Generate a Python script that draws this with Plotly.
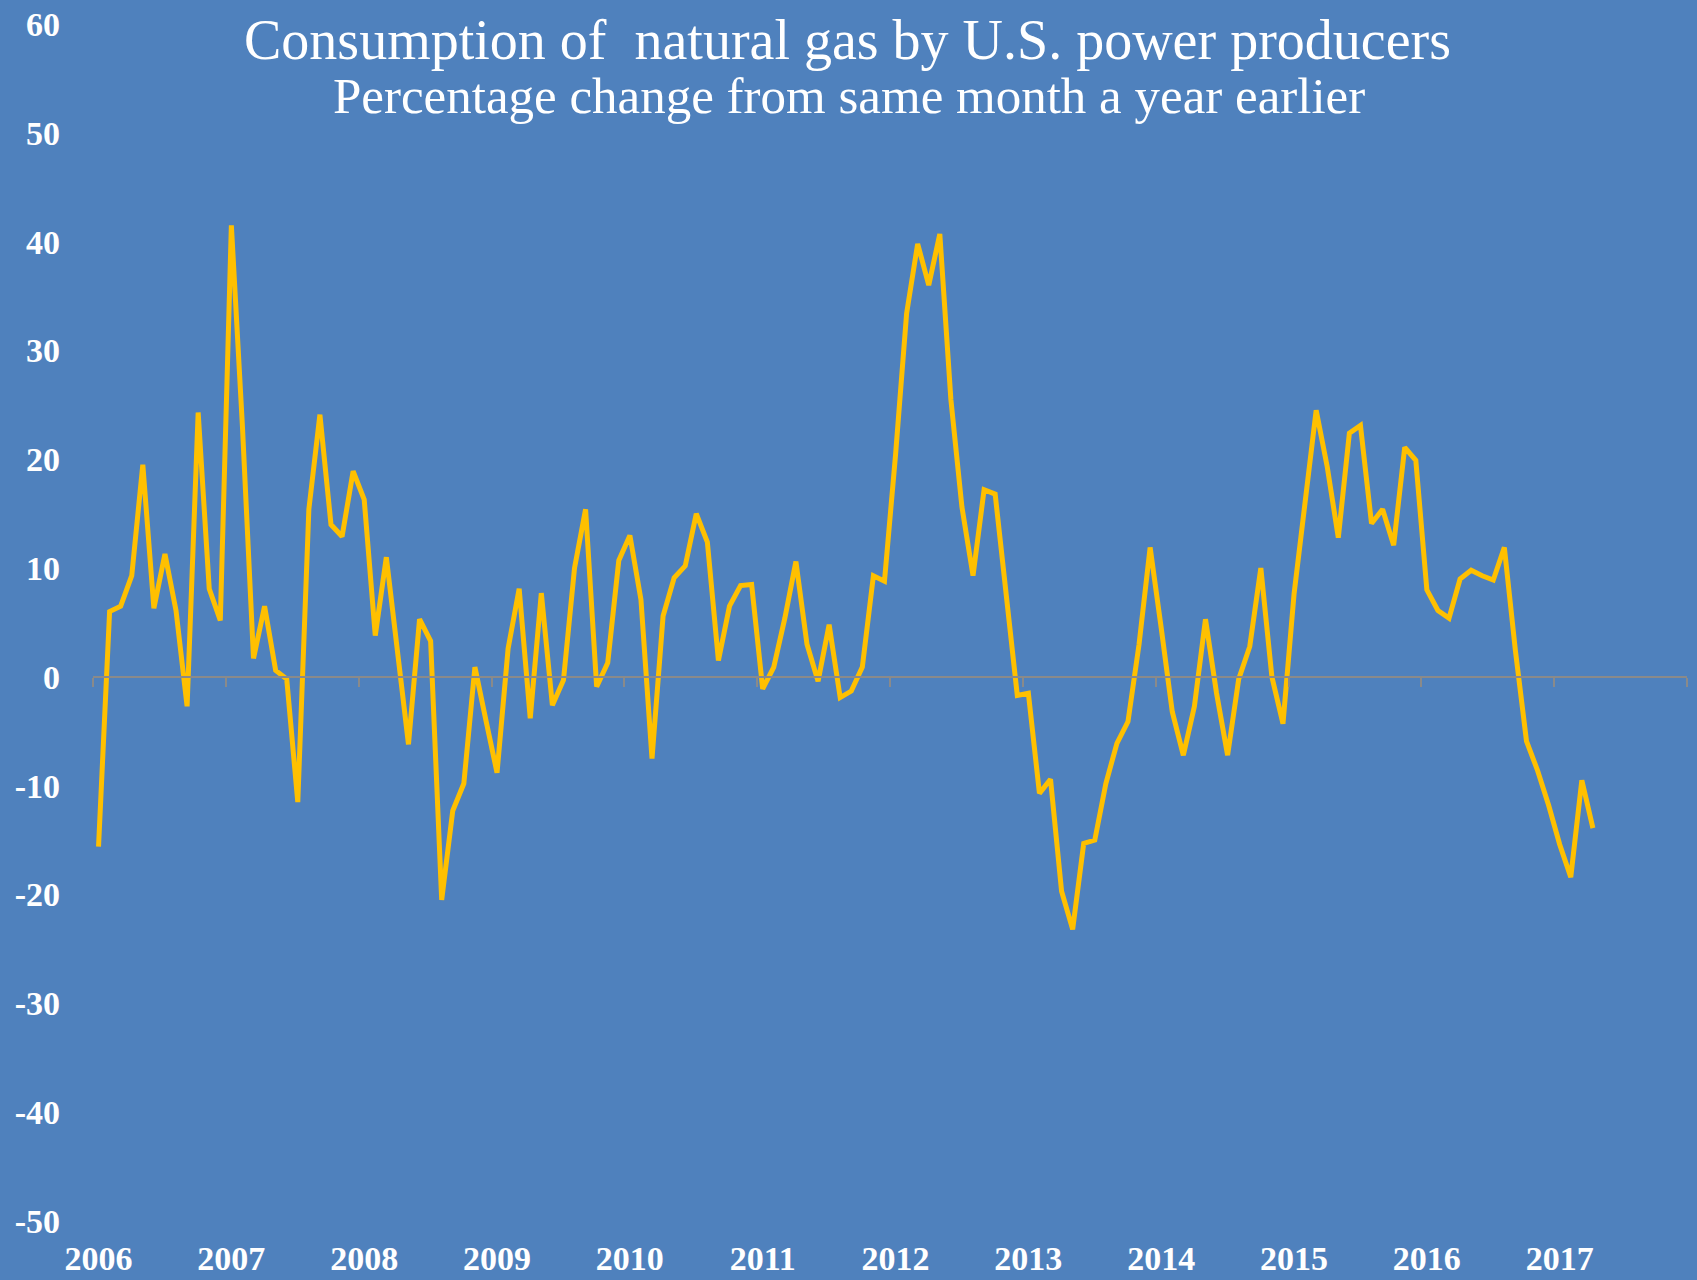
import plotly.graph_objects as go

# ── data: % change from same month a year earlier, Jan 2006 .. Apr 2017 ──────
pct_change = [
    # 2006
    -15.6, 6.0, 6.5, 9.3, 19.5, 6.3, 11.3, 6.1, -2.7, 24.3, 8.1, 5.2,
    # 2007
    41.5, 23.0, 1.7, 6.5, 0.6, -0.2, -11.5, 15.4, 24.1, 14.0, 12.9, 18.9,
    # 2008
    16.3, 3.8, 11.0, 2.4, -6.2, 5.3, 3.3, -20.5, -12.3, -9.8, 0.9, -4.0,
    # 2009
    -8.8, 2.6, 8.1, -3.8, 7.7, -2.6, -0.3, 10.0, 15.4, -0.9, 1.3, 10.7,
    # 2010
    13.0, 7.1, -7.5, 5.6, 9.1, 10.2, 15.0, 12.4, 1.5, 6.5, 8.4, 8.5,
    # 2011
    -1.1, 0.9, 5.4, 10.6, 3.0, -0.4, 4.8, -1.9, -1.3, 0.9, 9.3, 8.8,
    # 2012
    20.4, 33.4, 39.8, 36.0, 40.7, 25.5, 15.6, 9.3, 17.2, 16.8, 7.6, -1.7,
    # 2013
    -1.5, -10.7, -9.4, -19.7, -23.2, -15.3, -15.0, -9.8, -6.1, -4.1, 3.0, 11.9,
    # 2014
    4.5, -3.2, -7.2, -2.7, 5.3, -1.5, -7.2, -0.2, 2.8, 10.0, 0.0, -4.3,
    # 2015
    7.6, 16.0, 24.5, 19.3, 12.8, 22.4, 23.1, 14.1, 15.4, 12.1, 21.1, 19.9,
    # 2016
    8.0, 6.1, 5.4, 9.0, 9.8, 9.3, 8.9, 11.9, 2.4, -5.9, -8.6, -11.8,
    # 2017
    -15.4, -18.4, -9.5, -13.9,
]

years = ["2006", "2007", "2008", "2009", "2010", "2011",
         "2012", "2013", "2014", "2015", "2016", "2017"]
y_ticks = [60, 50, 40, 30, 20, 10, 0, -10, -20, -30, -40, -50]
y_text = [str(v) for v in y_ticks]          # plain hyphen, not unicode minus

title_1 = "Consumption of&nbsp; natural gas by U.S. power producers"
title_2 = "Percentage change from same month a year earlier"

# ── style ─────────────────────────────────────────────────────────────────────
BG = "#4F81BD"
GOLD = "#FFC000"
AXIS_GREY = "#8A8A8A"
FONT = "Liberation Serif"

months = list(range(len(pct_change)))
n_slots = len(years) * 12                   # axis runs to end of Dec 2017
x_range = [-0.5, n_slots - 0.5]
y_range = [min(y_ticks), max(y_ticks)]
zero_pos = (0 - y_range[0]) / (y_range[1] - y_range[0])

fig = go.Figure()
fig.add_trace(go.Scatter(
    x=months, y=pct_change,
    mode="lines",
    line=dict(color=GOLD, width=5),
    hoverinfo="skip",
    showlegend=False,
))
# empty trace so the zero-line axis (x2) gets drawn
fig.add_trace(go.Scatter(x=[], y=[], xaxis="x2", yaxis="y", showlegend=False))

tick_font = dict(family=FONT, size=34, color="white", weight="bold")

fig.update_layout(
    width=1697, height=1280,
    paper_bgcolor=BG, plot_bgcolor=BG,
    margin=dict(l=93, r=10, t=24, b=59),
    font=dict(family=FONT, color="white", size=34),
    xaxis=dict(
        range=x_range, showgrid=False, zeroline=False, showline=False,
        tickmode="array", tickvals=months[::12], ticktext=years,
        ticks="", ticklabelstandoff=14, tickfont=tick_font,
        automargin=False,
    ),
    # zero line with year-boundary tick marks
    xaxis2=dict(
        range=x_range, overlaying="x", anchor="free", position=zero_pos,
        showgrid=False, zeroline=False, showline=True,
        linecolor=AXIS_GREY, linewidth=1.5,
        tickmode="array", tickvals=[k * 12 - 0.5 for k in range(len(years) + 1)],
        ticks="outside", ticklen=9, tickwidth=1.5, tickcolor=AXIS_GREY,
        showticklabels=False, automargin=False,
    ),
    yaxis=dict(
        range=y_range, showgrid=False, zeroline=False, showline=False,
        tickmode="array", tickvals=y_ticks, ticktext=y_text,
        ticks="", ticklabelstandoff=32, tickfont=tick_font,
        automargin=False,
    ),
    annotations=[
        dict(text=title_1, xref="paper", yref="paper", x=0.4735, y=0.987,
             xanchor="center", yanchor="middle", showarrow=False,
             font=dict(family=FONT, size=56, color="white")),
        dict(text=title_2, xref="paper", yref="paper", x=0.474, y=0.940,
             xanchor="center", yanchor="middle", showarrow=False,
             font=dict(family=FONT, size=51, color="white")),
    ],
)

# drop the default 8px body margin so the chart fills the window
fig.write_html("out.html", config={"displayModeBar": False},
               post_script="document.body.style.margin='0';")
